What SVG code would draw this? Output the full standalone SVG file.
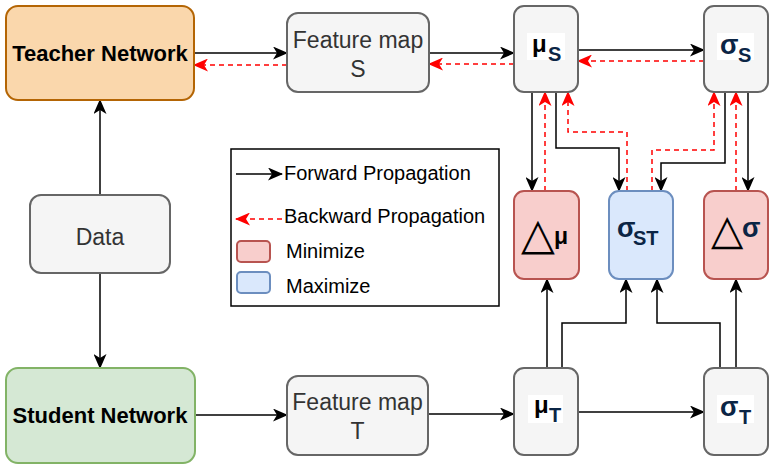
<svg xmlns="http://www.w3.org/2000/svg" width="772" height="467" viewBox="0 0 772 467">
<style>
.box{stroke-width:2}
.gray{fill:#f5f5f5;stroke:#666666}
.teach{fill:#fad7ac;stroke:#b46504}
.stud{fill:#d5e8d4;stroke:#82b366}
.red{fill:#f8cecc;stroke:#b85450}
.blue{fill:#dae8fc;stroke:#6c8ebf}
.fw{fill:none;stroke:#000;stroke-width:1.5;marker-end:url(#ab)}
.bw{fill:none;stroke:#ff0000;stroke-width:1.5;stroke-dasharray:5 4;marker-end:url(#ar)}
.t{font-family:"Liberation Sans",Arial,sans-serif}
.bold{font-weight:bold}
.g{fill:#333333}
.navy{fill:#0b2545}
</style>
<defs>
<marker id="ab" markerUnits="userSpaceOnUse" markerWidth="15" markerHeight="13" viewBox="0 0 15 13" refX="14" refY="6.5" orient="auto">
<path d="M0,0 L15,6.5 L0,13 L4,6.5 z" fill="#000"/>
</marker>
<marker id="ar" markerUnits="userSpaceOnUse" markerWidth="15" markerHeight="13" viewBox="0 0 15 13" refX="14" refY="6.5" orient="auto">
<path d="M0,0 L15,6.5 L0,13 L4,6.5 z" fill="#ff0000"/>
</marker>
</defs>
<rect width="772" height="467" fill="#ffffff"/>

<g id="connectors">
<path class="fw" d="M194,53 L287,53"/>
<path class="fw" d="M429,53 L514,53"/>
<path class="fw" d="M578,50 L704,50"/>
<path class="fw" d="M100,195 L100,100"/>
<path class="fw" d="M100,273 L100,368"/>
<path class="fw" d="M195,415 L287,415"/>
<path class="fw" d="M428,414 L514,414"/>
<path class="fw" d="M578,412 L704,412"/>
<path class="fw" d="M532,92 L532,191"/>
<path class="fw" d="M556,92 L556,148 L619,148 L619,191"/>
<path class="fw" d="M725,92 L725,163 L661,163 L661,191"/>
<path class="fw" d="M748,92 L748,191"/>
<path class="fw" d="M547,368 L547,279"/>
<path class="fw" d="M562,368 L562,323 L626,323 L626,279"/>
<path class="fw" d="M720,368 L720,323 L657,323 L657,279"/>
<path class="fw" d="M736,368 L736,279"/>
<path class="bw" d="M287,65 L194,65"/>
<path class="bw" d="M514,64 L429,64"/>
<path class="bw" d="M704,61 L578,61"/>
<path class="bw" d="M545,191 L545,92"/>
<path class="bw" d="M627,191 L627,132 L568,132 L568,92"/>
<path class="bw" d="M652,191 L652,150 L714,150 L714,92"/>
<path class="bw" d="M736,191 L736,92"/>
</g>

<g id="teacher">
<rect class="box teach" x="6" y="6" width="188" height="94" rx="12"/>
<text class="t bold" x="100" y="61" font-size="22" text-anchor="middle">Teacher Network</text>
</g>
<g id="student">
<rect class="box stud" x="6" y="368" width="189" height="95" rx="12"/>
<text class="t bold" x="100" y="423" font-size="22" text-anchor="middle">Student Network</text>
</g>
<g id="data">
<rect class="box gray" x="30" y="195" width="140" height="78" rx="11"/>
<text class="t g" x="100" y="245" font-size="23" text-anchor="middle">Data</text>
</g>
<g id="featS">
<rect class="box gray" x="287" y="13" width="142" height="79" rx="11"/>
<text class="t g" x="358" y="48" font-size="23" text-anchor="middle">Feature map</text>
<text class="t g" x="358" y="77" font-size="23" text-anchor="middle">S</text>
</g>
<g id="featT">
<rect class="box gray" x="287" y="376" width="141" height="79" rx="11"/>
<text class="t g" x="357.5" y="410" font-size="23" text-anchor="middle">Feature map</text>
<text class="t g" x="357.5" y="439" font-size="23" text-anchor="middle">T</text>
</g>
<g id="muS">
<rect class="box gray" x="514" y="6" width="64" height="86" rx="10"/>
<rect x="527" y="33" width="38" height="27" fill="#ffffff"/>
<text class="t bold" x="532" y="52" font-size="24">μ</text>
<text class="t bold navy" x="548" y="61" font-size="20">S</text>
</g>
<g id="sigS">
<rect class="box gray" x="704" y="6" width="64" height="86" rx="10"/>
<rect x="717" y="33" width="37" height="27" fill="#ffffff"/>
<text class="t bold navy" x="720" y="54" font-size="27">σ</text>
<text class="t bold navy" x="738" y="62" font-size="20">S</text>
</g>
<g id="muT">
<rect class="box gray" x="514" y="368" width="64" height="87" rx="10"/>
<rect x="528" y="395" width="35" height="28" fill="#ffffff"/>
<text class="t bold" x="534" y="413" font-size="24">μ</text>
<text class="t bold navy" x="549" y="422" font-size="20">T</text>
</g>
<g id="sigT">
<rect class="box gray" x="704" y="368" width="64" height="87" rx="10"/>
<rect x="717" y="395" width="37" height="28" fill="#ffffff"/>
<text class="t bold navy" x="720" y="416" font-size="27">σ</text>
<text class="t bold navy" x="739" y="424" font-size="20">T</text>
</g>
<g id="dmu">
<rect class="box red" x="514" y="191" width="65" height="88" rx="10"/>
<text x="521" y="249" font-size="44" font-family="DejaVu Sans,sans-serif">△</text>
<text class="t bold" x="554" y="244" font-size="23">μ</text>
</g>
<g id="sigST">
<rect class="box blue" x="609" y="191" width="64" height="88" rx="10"/>
<text class="t bold navy" x="617" y="237" font-size="27">σ</text>
<text class="t bold navy" x="633" y="245" font-size="20">ST</text>
</g>
<g id="dsig">
<rect class="box red" x="704" y="191" width="64" height="88" rx="10"/>
<text x="711" y="244" font-size="42" font-family="DejaVu Sans,sans-serif">△</text>
<text class="t bold navy" x="742" y="237" font-size="27">σ</text>
</g>
<g id="legend">
<rect x="231" y="149" width="268" height="157" fill="#ffffff" stroke="#000" stroke-width="1.5"/>
<path class="fw" d="M236,174 L282,174"/>
<text class="t" x="284" y="180" font-size="20">Forward Propagation</text>
<path class="bw" d="M282,219 L236,219"/>
<text class="t" x="284" y="223" font-size="20">Backward Propagation</text>
<rect class="red" x="237" y="241" width="33" height="21" rx="4" stroke-width="2"/>
<text class="t" x="286" y="258" font-size="20">Minimize</text>
<rect class="blue" x="237" y="272" width="33" height="21" rx="4" stroke-width="2"/>
<text class="t" x="286" y="293" font-size="20">Maximize</text>
</g>
</svg>
